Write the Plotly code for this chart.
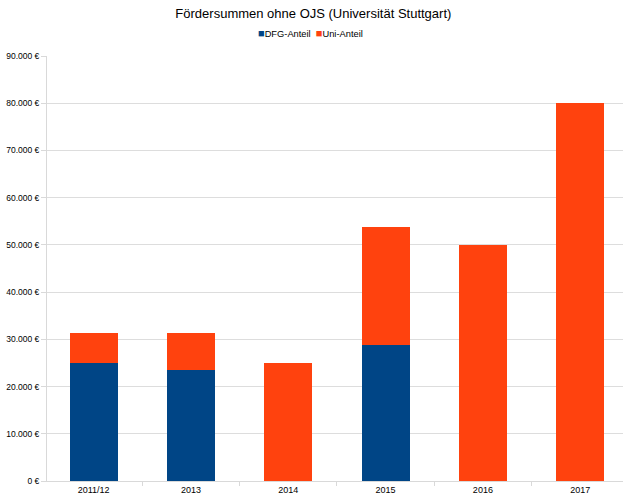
import plotly.graph_objects as go

categories = ["2011/12", "2013", "2014", "2015", "2016", "2017"]
dfg_anteil = [25000, 23437.5, 0, 28750, 0, 0]
uni_anteil = [6250, 7812.5, 25000, 25000, 50000, 80000]
y_ticks = [0, 10000, 20000, 30000, 40000, 50000, 60000, 70000, 80000, 90000]
y_tick_text = ["0 €", "10.000 €", "20.000 €", "30.000 €", "40.000 €", "50.000 €",
               "60.000 €", "70.000 €", "80.000 €", "90.000 €"]
series_names = ["DFG-Anteil", "Uni-Anteil"]
series_colors = ["#004586", "#ff420e"]

fig = go.Figure()
fig.add_trace(go.Bar(x=categories, y=dfg_anteil, name=series_names[0],
                     marker=dict(color=series_colors[0], line=dict(width=0))))
fig.add_trace(go.Bar(x=categories, y=uni_anteil, name=series_names[1],
                     marker=dict(color=series_colors[1], line=dict(width=0))))

legend_text = "&nbsp; ".join(
    f"<span style='color:{c};font-size:11px'>■</span>{n}"
    for n, c in zip(series_names, series_colors)
)

fig.update_layout(
    barmode="stack",
    bargap=0.507,
    width=623, height=494,
    margin=dict(l=47, r=0, t=56, b=13),
    paper_bgcolor="white", plot_bgcolor="white",
    font=dict(family="Liberation Sans, Arial, sans-serif", size=10, color="#000"),
    title=dict(text="Fördersummen ohne OJS (Universität Stuttgart)",
               x=0.503, xanchor="center", y=0.972, yanchor="middle",
               font=dict(size=13)),
    showlegend=False,
    annotations=[dict(text=legend_text, xref="paper", yref="paper",
                      x=0.458, y=1.054, xanchor="center", yanchor="middle",
                      showarrow=False, font=dict(size=9.3))],
)
fig.update_xaxes(range=[-0.48, 5.44], showgrid=False, showline=True, linecolor="#d9d9d9",
                 ticks="outside", tickson="boundaries", ticklen=4, tickcolor="#d9d9d9",
                 tickfont=dict(size=9), automargin=False)
fig.update_yaxes(range=[0, 90000], tickmode="array", tickvals=y_ticks, ticktext=y_tick_text,
                 showgrid=True, gridcolor="#dddddd", showline=True, linecolor="#d9d9d9",
                 ticks="outside", ticklen=5, tickcolor="#d9d9d9", zeroline=False,
                 tickfont=dict(size=8.5), automargin=False)

fig.write_html("out.html")
